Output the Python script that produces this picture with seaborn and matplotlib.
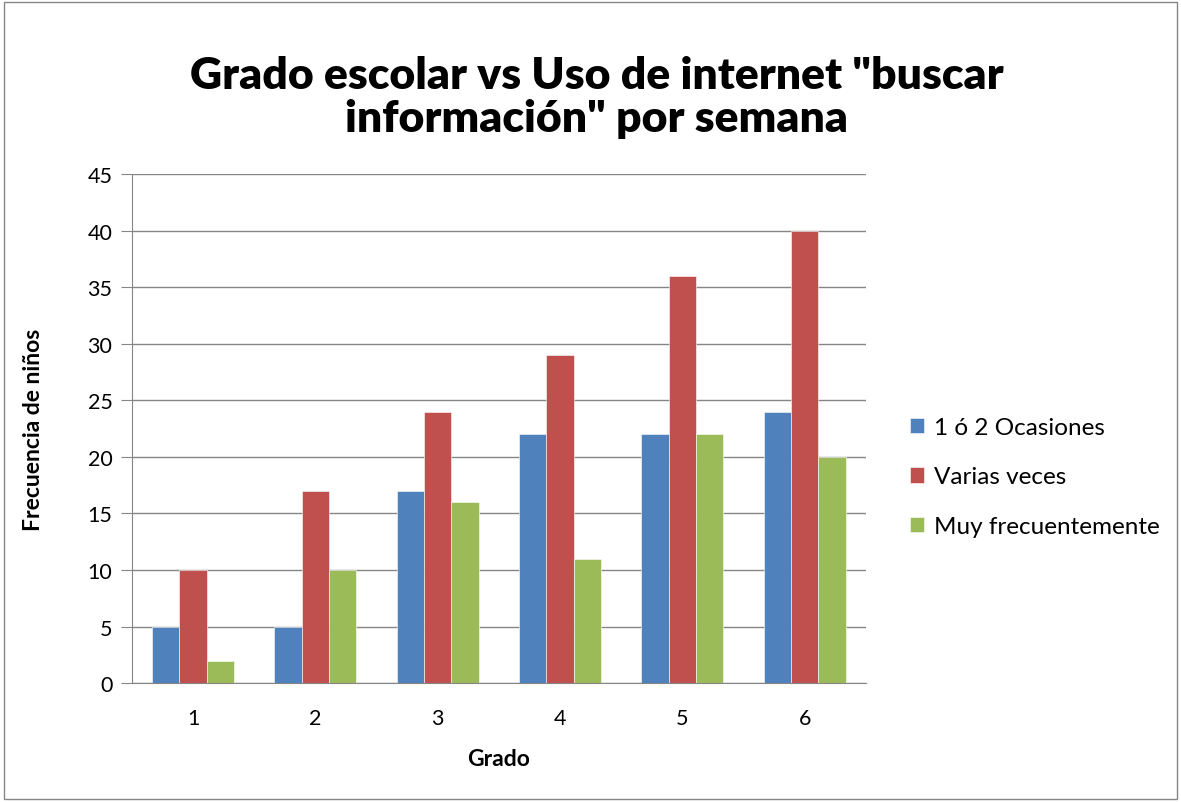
import seaborn as sns
import pandas as pd
import matplotlib.pyplot as plt
from matplotlib.patches import Rectangle

grados = ["1", "2", "3", "4", "5", "6"]
series = ["1 ó 2 Ocasiones", "Varias veces", "Muy frecuentemente"]
ocasiones = [5, 5, 17, 22, 22, 24]
varias = [10, 17, 24, 29, 36, 40]
muy_frec = [2, 10, 16, 11, 22, 20]
colores = ["#4F81BD", "#C0504D", "#9BBB59"]

df = pd.DataFrame({
    "Grado": grados * 3,
    "Serie": [s for s in series for _ in grados],
    "Frecuencia": ocasiones + varias + muy_frec,
})

sns.set_style("white")
plt.rcParams["font.family"] = ["Lato", "DejaVu Sans"]
plt.rcParams["text.color"] = "black"
plt.rcParams["axes.labelcolor"] = "black"
plt.rcParams["xtick.color"] = "black"
plt.rcParams["ytick.color"] = "black"

fig = plt.figure(figsize=(11.81, 8.03), dpi=100)
ax = fig.add_axes([0.1117, 0.148, 0.6215, 0.634])

sns.barplot(data=df, x="Grado", y="Frecuencia", hue="Serie", palette=colores,
            width=0.67, gap=0, saturation=1, ax=ax, edgecolor="white", linewidth=0.4)

ax.set_ylim(0, 45)
ax.set_xlim(-0.5, 5.5)
ax.set_yticks(range(0, 46, 5))
ax.yaxis.grid(True, color="#868686", linewidth=1)
ax.set_axisbelow(True)
for s in ["top", "right"]:
    ax.spines[s].set_visible(False)
for s in ["left", "bottom"]:
    ax.spines[s].set_color("#868686")
ax.tick_params(axis="y", length=8, color="#868686", labelsize=15.5, pad=6, left=True)
ax.tick_params(axis="x", length=0, labelsize=15.5, pad=18)

ax.set_xlabel("Grado", fontsize=16.5, fontweight="bold", labelpad=14)
ax.set_ylabel("Frecuencia de niños", fontsize=16.5, fontweight="bold", labelpad=31)

fig.suptitle('Grado escolar vs Uso de internet "buscar\ninformación" por semana',
             x=0.505, y=0.93, fontsize=32, fontweight="heavy", linespacing=1.07)

ax.legend(loc="center left", bbox_to_anchor=(1.03, 0.405), frameon=False,
          fontsize=17.5, handlelength=0.6, handleheight=0.6, labelspacing=1.17,
          handletextpad=0.4)

fig.patches.append(Rectangle((0.003, 0.004), 0.994, 0.992, transform=fig.transFigure,
                             fill=False, edgecolor="#868686", linewidth=1))

fig.savefig("out.png", dpi=100)
